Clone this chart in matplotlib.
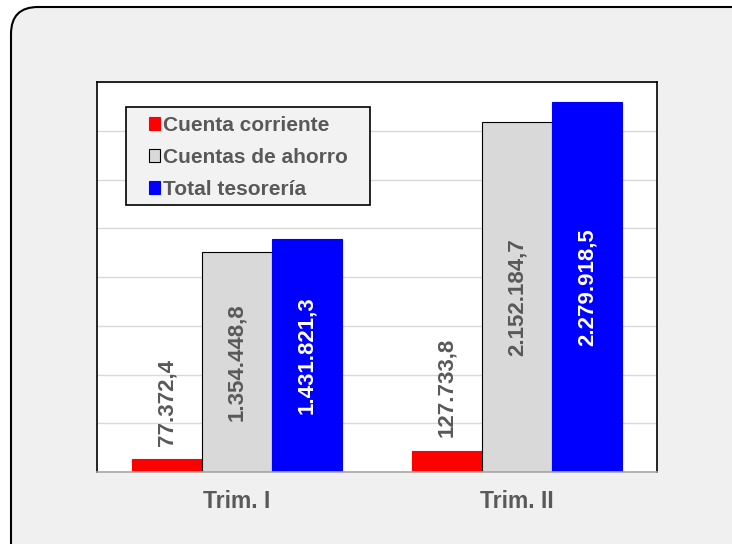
import numpy as np
import matplotlib.pyplot as plt
from matplotlib.patches import FancyBboxPatch, Rectangle

# datos (miles de euros)
categorias = ['Trim. I', 'Trim. II']
series = ['Cuenta corriente', 'Cuentas de ahorro', 'Total tesorería']
cuenta_corriente = [77372.4, 127733.8]
cuentas_ahorro = [1354448.8, 2152184.7]
total_tesoreria = [1431821.3, 2279918.5]

colores = ['#FF0000', '#D9D9D9', '#0000FF']
bordes = ['#FF0000', '#000000', '#0000FF']
color_etiqueta = ['#595959', '#595959', '#FFFFFF']
gris_texto = '#595959'

plt.rcParams['font.family'] = ['Liberation Sans', 'DejaVu Sans']


def fmt_es(v):
    # formato espanol: punto para miles, coma decimal
    s = f'{v:,.1f}'
    return s.replace(',', '_').replace('.', ',').replace('_', '.')


fig = plt.figure(figsize=(7.32, 5.44), dpi=100)
fig.patch.set_facecolor('white')

# marco redondeado de fondo
marco = FancyBboxPatch((0.11, -0.4), 7.7, 5.37 + 0.4,
                       boxstyle='round,pad=0,rounding_size=0.27',
                       transform=fig.dpi_scale_trans,
                       facecolor='#F0F0F0', edgecolor='black',
                       linewidth=1.5, zorder=-1)
fig.add_artist(marco)

ax = fig.add_axes([97 / 732, 1 - 472 / 544, 560 / 732, 390 / 544])
ax.set_facecolor('white')

x = np.arange(len(categorias))
w = 0.25
valores = [cuenta_corriente, cuentas_ahorro, total_tesoreria]
barras = []
for i, vals in enumerate(valores):
    b = ax.bar(x + (i - 1) * w, vals, w, color=colores[i],
               edgecolor=bordes[i], linewidth=0.8, zorder=2, label=series[i])
    barras.append(b)
    for xi, v in zip(x + (i - 1) * w, vals):
        if i == 0:
            ax.annotate(fmt_es(v), (xi, v), xytext=(0, 10),
                        textcoords='offset points', rotation=90,
                        ha='center', va='bottom', fontsize=16,
                        fontweight='bold', color=color_etiqueta[i])
        else:
            ax.text(xi, v / 2, fmt_es(v), rotation=90, ha='center',
                    va='center', fontsize=16, fontweight='bold',
                    color=color_etiqueta[i], zorder=3)

ax.set_xlim(-0.5, 1.5)
ax.set_ylim(0, 2400000)
ax.set_yticks(np.arange(0, 2400001, 300000))
ax.yaxis.grid(True, color='#D9D9D9', linewidth=1)
ax.set_axisbelow(True)
ax.tick_params(axis='y', length=0, labelleft=False)
ax.set_xticks(x, categorias)
ax.tick_params(axis='x', length=0, pad=13, labelsize=16.5, labelcolor=gris_texto)
for t in ax.get_xticklabels():
    t.set_fontweight('bold')

for lado in ['left', 'top', 'right']:
    ax.spines[lado].set_color('black')
    ax.spines[lado].set_linewidth(1.2)
ax.spines['bottom'].set_color('#A6A6A6')
ax.spines['bottom'].set_linewidth(1.2)

# leyenda con marco propio
marco_ley = Rectangle((1.26, 3.39), 2.44, 0.98, transform=fig.dpi_scale_trans,
                      facecolor='#F2F2F2', edgecolor='black', linewidth=1.2,
                      zorder=1)
fig.add_artist(marco_ley)
ley = fig.legend(barras, series, loc='upper left',
                 bbox_to_anchor=(149 / 732, 1 - 116 / 544), frameon=False,
                 borderpad=0, borderaxespad=0, fontsize=15,
                 handlelength=0.53, handleheight=0.53, handletextpad=0.15,
                 labelspacing=0.62)
ley.set_zorder(2)
for t in ley.get_texts():
    t.set_color(gris_texto)
    t.set_fontweight('bold')

fig.savefig('out.png', dpi=100)
